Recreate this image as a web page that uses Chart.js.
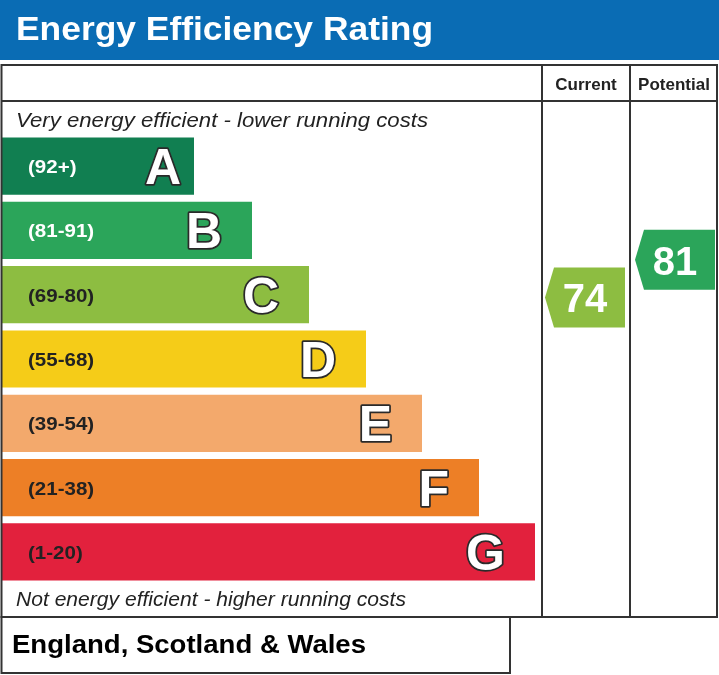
<!DOCTYPE html>
<html>
<head>
<meta charset="utf-8">
<script src="https://cdn.jsdelivr.net/npm/chart.js@4"></script>
<style>
    html, body { margin: 0; padding: 0; background: #fff; }
    #wrap { width: 719px; height: 675px; position: relative; }
</style>
</head>
<body>
<div id="wrap"><canvas id="epc"></canvas></div>
<script>
(function () {
    "use strict";

    // Rating bands, top (best) to bottom (worst)
    const bands = ["A", "B", "C", "D", "E", "F", "G"];
    const rangeLabels = ["(92+)", "(81-91)", "(69-80)", "(55-68)", "(39-54)", "(21-38)", "(1-20)"];
    const bandLow = [92, 81, 69, 55, 39, 21, 1];
    const bandHigh = [100, 91, 80, 68, 54, 38, 20];
    const barLength = [192, 250, 307, 364, 420, 477, 533];
    const bandColors = ["#117f51", "#2ba55a", "#8dbd41", "#f5cc18", "#f3a96c", "#ed7f26", "#e2213d"];

    const columnLabels = ["Current", "Potential"];
    const currentRating = 74;
    const potentialRating = 81;

    const FONT = '"Liberation Sans", Arial, Helvetica, sans-serif';
    const DARK = "#222";
    const LINE = "#333";

    function bandIndex(v) {
        for (let i = 0; i < bands.length; i++) {
            if (v >= bandLow[i]) return i;
        }
        return bands.length - 1;
    }

    // fractional category position of a rating inside its band
    function ratingToCategory(v) {
        const i = bandIndex(v);
        const span = bandHigh[i] - bandLow[i] + 1;
        return i + 0.5 - (v - bandLow[i] + 0.5) / span;
    }

    function fitText(ctx, text, x, y, w) {
        const m = ctx.measureText(text).width;
        ctx.save();
        ctx.translate(x, y);
        ctx.scale(w / m, 1);
        ctx.fillText(text, 0, 0);
        ctx.restore();
    }

    const framePlugin = {
        id: "epcFrame",
        beforeDraw(chart) {
            const ctx = chart.ctx;
            ctx.save();
            ctx.fillStyle = "#fff";
            ctx.fillRect(0, 0, chart.width, chart.height);

            // title banner
            ctx.fillStyle = "#0a6cb4";
            ctx.fillRect(0, 0, chart.width, 60);
            ctx.fillStyle = "#fff";
            ctx.font = "bold 33px " + FONT;
            ctx.textBaseline = "alphabetic";
            fitText(ctx, "Energy Efficiency Rating", 16, 40, 417);
            ctx.restore();
        },
        afterDraw(chart) {
            const ctx = chart.ctx;
            const y = chart.scales.y;
            ctx.save();

            // table lines
            ctx.strokeStyle = LINE;
            ctx.lineWidth = 2;
            ctx.strokeRect(1.5, 65, 715.5, 552);
            ctx.beginPath();
            ctx.moveTo(1.5, 101); ctx.lineTo(717, 101);
            ctx.moveTo(542, 65); ctx.lineTo(542, 617);
            ctx.moveTo(630, 65); ctx.lineTo(630, 617);
            ctx.stroke();
            ctx.strokeRect(1.5, 617, 508.5, 56);

            // column headings
            ctx.fillStyle = DARK;
            ctx.font = "bold 17px " + FONT;
            ctx.textAlign = "center";
            ctx.fillText(columnLabels[0], 586, 90);
            ctx.fillText(columnLabels[1], 674, 90);

            // captions
            ctx.textAlign = "left";
            ctx.font = "italic 21px " + FONT;
            fitText(ctx, "Very energy efficient - lower running costs", 16, 127, 412);
            fitText(ctx, "Not energy efficient - higher running costs", 16, 606, 390);
            ctx.fillStyle = "#000";
            ctx.font = "bold 26px " + FONT;
            fitText(ctx, "England, Scotland & Wales", 12, 653, 354);

            // rating arrows
            const arrows = [
                { v: currentRating, x0: 545, x1: 625 },
                { v: potentialRating, x0: 635, x1: 715 }
            ];
            arrows.forEach((a) => {
                const cy = y.getPixelForValue(ratingToCategory(a.v));
                const h = 30;
                ctx.fillStyle = bandColors[bandIndex(a.v)];
                ctx.beginPath();
                ctx.moveTo(a.x0, cy);
                ctx.lineTo(a.x0 + 9, cy - h);
                ctx.lineTo(a.x1, cy - h);
                ctx.lineTo(a.x1, cy + h);
                ctx.lineTo(a.x0 + 9, cy + h);
                ctx.closePath();
                ctx.fill();
                ctx.fillStyle = "#fff";
                ctx.font = "bold 40px " + FONT;
                ctx.textAlign = "center";
                ctx.fillText(String(a.v), (a.x0 + a.x1) / 2, cy + 15);
            });
            ctx.restore();
        },
        afterDatasetsDraw(chart) {
            const ctx = chart.ctx;
            const meta = chart.getDatasetMeta(0);
            ctx.save();
            meta.data.forEach((bar, i) => {
                // range label
                ctx.font = "bold 19px " + FONT;
                ctx.textAlign = "left";
                ctx.fillStyle = i < 2 ? "#fff" : DARK;
                fitText(ctx, rangeLabels[i], 28, bar.y + 7, ctx.measureText(rangeLabels[i]).width * 1.08);

                // outlined band letter
                const inset = i === 0 ? 13 : 30;
                ctx.font = "bold 50px " + FONT;
                ctx.textAlign = "right";
                ctx.lineJoin = "round";
                ctx.lineWidth = 3.5;
                ctx.strokeStyle = "#2a2a2a";
                ctx.strokeText(bands[i], bar.x - inset, bar.y + 18);
                ctx.fillStyle = "#fff";
                ctx.fillText(bands[i], bar.x - inset, bar.y + 18);
            });
            ctx.restore();
        }
    };

    const ctx = document.getElementById("epc").getContext("2d");
    new Chart(ctx, {
        type: "bar",
        data: {
            labels: bands,
            datasets: [
                {
                    label: "Band",
                    data: barLength,
                    backgroundColor: bandColors,
                    borderWidth: 0,
                    barPercentage: 0.89,
                    categoryPercentage: 1.0,
                },
            ],
        },
        options: {
            indexAxis: "y",
            responsive: true,
            maintainAspectRatio: false,
            animation: false,
            layout: {
                padding: { left: 2, right: 177, top: 134, bottom: 91 },
            },
            plugins: {
                legend: { display: false },
                tooltip: { enabled: false },
            },
            scales: {
                x: { type: "linear", min: 0, max: 540, display: false },
                y: { type: "category", display: false, grid: { display: false } },
            },
        },
        plugins: [framePlugin],
    });
})();
</script>
</body>
</html>
